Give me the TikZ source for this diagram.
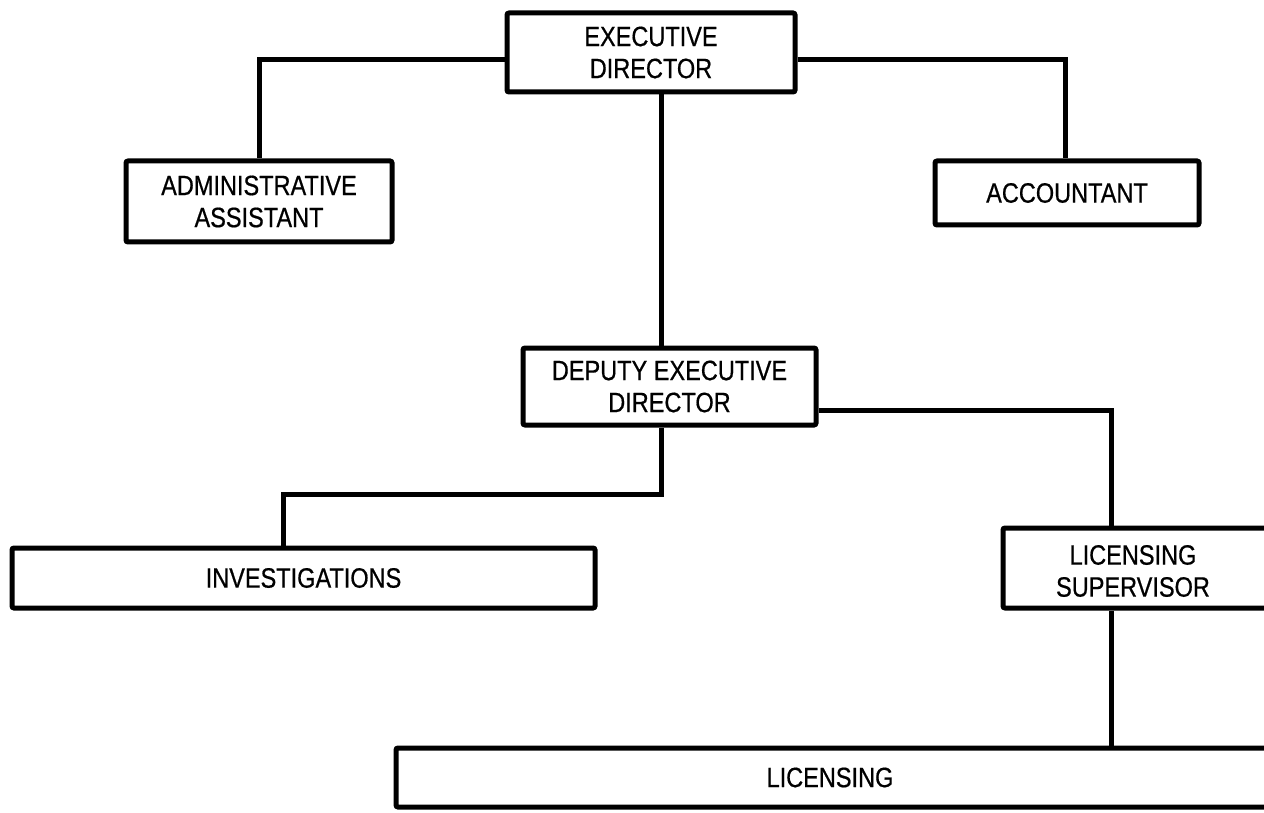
\documentclass[tikz,border=0pt]{standalone}
\usepackage{fontspec}
\setmainfont{Liberation Sans}[FakeStretch=0.84,FakeBold=0.6]
\usetikzlibrary{calc}

\begin{document}
\begin{tikzpicture}[x=1pt,y=-1pt,line width=5pt,
      box/.style={draw,rounded corners=2pt,inner sep=0pt,align=center,
        font=\fontsize{28}{32}\selectfont},
      txt/.style={align=center,inner sep=0pt,font=\fontsize{28}{32}\selectfont}]
      \useasboundingbox (0,0) rectangle (1264,813);
      \clip (0,0) rectangle (1264,813);

      \node[box, minimum width=288, minimum height=79] (exec) at (651, 52.5) {EXECUTIVE\\DIRECTOR};
      \node[box, minimum width=266, minimum height=81] (admin) at (259, 201.5) {ADMINISTRATIVE\\ASSISTANT};
      \node[box, minimum width=264, minimum height=64] (acct) at (1067, 193) {ACCOUNTANT};
      \node[box, minimum width=293, minimum height=77] (deputy) at (669.5, 386.5) {DEPUTY EXECUTIVE\\DIRECTOR};
      \node[box, minimum width=583, minimum height=60] (invest) at (303.5, 578) {INVESTIGATIONS};

      \node[box, minimum width=320, minimum height=80] (licsup) at (1163, 568) {};
      \node[txt] (licsup_t) at (1133, 571) {LICENSING\\SUPERVISOR};

      \node[box, minimum width=900, minimum height=59] (lic) at (846, 777.5) {};
      \node[txt] (lic_t) at (830, 777.5) {LICENSING};

      \coordinate (j_exec) at (661, 92);
      \coordinate (j_inv) at (283, 494);
      \coordinate (j_lic) at (1111, 410);

      \draw ([yshift=-7pt]exec.west) -| (admin.north);
      \draw ([yshift=-7pt]exec.east) -| ([xshift=-2pt]acct.north);
      \draw (j_exec) -- (j_exec |- deputy.north);
      \draw (j_exec |- deputy.south) |- (j_inv) -- (j_inv |- invest.north);
      \draw ([yshift=-23.5pt]deputy.east) -- (j_lic) -- (j_lic |- licsup.north);
      \draw (j_lic |- licsup.south) -- (j_lic |- lic.north);
\end{tikzpicture}
\end{document}
